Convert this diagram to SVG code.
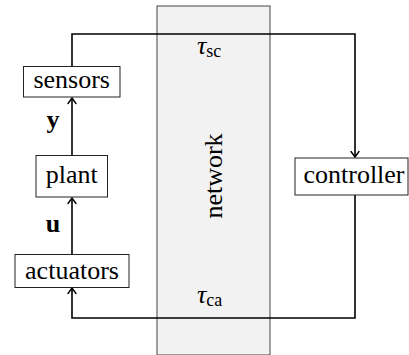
<svg xmlns="http://www.w3.org/2000/svg" width="409" height="355" viewBox="0 0 409 355">
<style>
  .box { fill: #ffffff; stroke: #222; stroke-width: 1; }
  .lbl { font-size: 26px; fill: #000; }
  .bold { font-weight: bold; }
  .it { font-style: italic; }
  .sub { font-size: 18px; }
  .wire { fill: none; stroke: #000; stroke-width: 1.6; }
</style>
<defs>
  <marker id="arr" markerUnits="userSpaceOnUse" markerWidth="14" markerHeight="14" viewBox="-7 -7 14 14" refX="0" refY="0" orient="auto">
    <path d="M-5.5,-4 Q-1.5,-1 0,0 Q-1.5,1 -5.5,4" fill="none" stroke="#000" stroke-width="1.4" stroke-linecap="round"/>
  </marker>
</defs>
<g font-family="Liberation Serif, serif">
<g id="network">
  <rect x="157" y="6" width="113" height="349" fill="#f2f2f2" stroke="#444" stroke-width="1"/>
  <text class="lbl" text-anchor="middle" transform="translate(222,176) rotate(-90)">network</text>
</g>
<g id="connectors">
  <path class="wire" d="M72,66.5 V34 H355 V157" marker-end="url(#arr)"/>
  <path class="wire" d="M355,195 V318 H72 V288" marker-end="url(#arr)"/>
  <path class="wire" d="M72,155 V98" marker-end="url(#arr)"/>
  <path class="wire" d="M72,254 V198" marker-end="url(#arr)"/>
  <text class="lbl bold" x="53" y="128" text-anchor="middle">y</text>
  <text class="lbl bold" x="53" y="232" text-anchor="middle">u</text>
  <text class="lbl" x="197" y="54"><tspan class="it">τ</tspan><tspan class="sub" dy="3">sc</tspan></text>
  <text class="lbl" x="197" y="303"><tspan class="it">τ</tspan><tspan class="sub" dy="3">ca</tspan></text>
</g>
<g id="sensors">
  <rect class="box" x="23.5" y="66.5" width="96.5" height="30.5"/>
  <text class="lbl" x="71.7" y="87.5" text-anchor="middle">sensors</text>
</g>
<g id="plant">
  <rect class="box" x="36" y="155.5" width="71.5" height="41.5"/>
  <text class="lbl" x="71.7" y="183" text-anchor="middle">plant</text>
</g>
<g id="actuators">
  <rect class="box" x="15" y="254.5" width="114" height="33"/>
  <text class="lbl" x="72" y="278.5" text-anchor="middle">actuators</text>
</g>
<g id="controller">
  <rect class="box" x="295" y="158" width="113" height="37"/>
  <text class="lbl" x="354" y="182.5" text-anchor="middle">controller</text>
</g>
</g>
</svg>
